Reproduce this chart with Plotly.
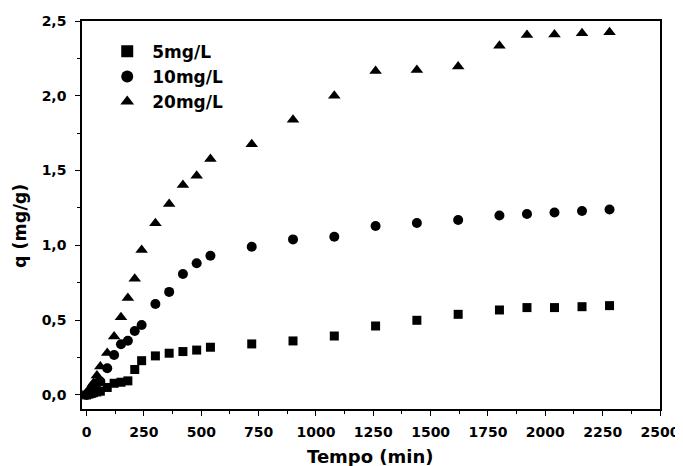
import plotly.graph_objects as go

# time (min)
t = [0, 10, 20, 30, 45, 60, 90, 120, 150, 180, 210, 240, 300, 360, 420, 480, 540,
     720, 900, 1080, 1260, 1440, 1620, 1800, 1920, 2040, 2160, 2280]

q_5 = [0.0, 0.005, 0.01, 0.015, 0.02, 0.025, 0.05, 0.078, 0.085, 0.094, 0.17, 0.229,
       0.261, 0.279, 0.29, 0.30, 0.319, 0.341, 0.361, 0.394, 0.461, 0.499, 0.539,
       0.568, 0.584, 0.584, 0.59, 0.597]
q_10 = [0.0, 0.02, 0.04, 0.06, 0.08, 0.09, 0.178, 0.267, 0.339, 0.362, 0.428, 0.468,
        0.608, 0.689, 0.809, 0.88, 0.931, 0.991, 1.04, 1.058, 1.13, 1.15, 1.17,
        1.20, 1.21, 1.22, 1.23, 1.24]
q_20 = [0.0, 0.02, 0.05, 0.08, 0.13, 0.19, 0.28, 0.39, 0.519, 0.648, 0.777, 0.969,
        1.148, 1.277, 1.404, 1.466, 1.578, 1.676, 1.84, 2.0, 2.166, 2.172, 2.195,
        2.335, 2.406, 2.41, 2.418, 2.424]

series_names = ["5mg/L", "10mg/L", "20mg/L"]
x_title = "Tempo (min)"
y_title = "q (mg/g)"
x_tickvals = [0, 250, 500, 750, 1000, 1250, 1500, 1750, 2000, 2250, 2500]
x_ticktext = ["0", "250", "500", "750", "1000", "1250", "1500", "1750", "2000", "2250", "2500"]
y_tickvals = [0.0, 0.5, 1.0, 1.5, 2.0, 2.5]
y_ticktext = ["0,0", "0,5", "1,0", "1,5", "2,0", "2,5"]

FONT = "DejaVu Sans"

fig = go.Figure()
fig.add_trace(go.Scatter(x=t, y=q_5, mode="markers", name=series_names[0],
                         marker=dict(symbol="square", size=9, color="black")))
fig.add_trace(go.Scatter(x=t, y=q_10, mode="markers", name=series_names[1],
                         marker=dict(symbol="circle", size=10, color="black")))
fig.add_trace(go.Scatter(x=t, y=q_20, mode="markers", name=series_names[2],
                         marker=dict(symbol="triangle-up", size=11, color="black")))

axis_common = dict(
    showline=True, linecolor="black", linewidth=1.5, mirror=True,
    ticks="outside", ticklen=5, tickwidth=1.3, tickcolor="black",
    showgrid=False, zeroline=False, automargin=False,
    tickfont=dict(family=FONT, size=14, color="black", weight="bold"),
)

fig.update_xaxes(
    range=[-20, 2500], tickvals=x_tickvals, ticktext=x_ticktext,
    minor=dict(ticks="outside", ticklen=3, tickwidth=1.2, tickcolor="black", dtick=125, tick0=0),
    ticklabelstandoff=4,
    **axis_common,
)
fig.update_yaxes(
    range=[-0.094, 2.5], tickvals=y_tickvals, ticktext=y_ticktext,
    minor=dict(ticks="outside", ticklen=3, tickwidth=1.2, tickcolor="black", dtick=0.25, tick0=0),
    ticklabelstandoff=6,
    **axis_common,
)

fig.add_annotation(text=x_title, xref="paper", yref="paper", x=(370 - 82) / 578,
                   y=(409 - 456) / 388, xanchor="center", yanchor="middle", showarrow=False,
                   font=dict(family=FONT, size=18, color="black", weight="bold"))
fig.add_annotation(text=y_title, xref="paper", yref="paper", x=(20 - 82) / 578,
                   y=(409 - 226) / 388, xanchor="center", yanchor="middle", showarrow=False,
                   textangle=-90,
                   font=dict(family=FONT, size=17.5, color="black", weight="bold"))

# the page body adds an 8px offset, so the figure is sized to fit the window
fig.update_layout(
    width=675, height=458,
    margin=dict(l=74, r=23, t=13, b=57),
    paper_bgcolor="white", plot_bgcolor="white",
    showlegend=True,
    legend=dict(x=0.035, y=0.967, xanchor="left", yanchor="top",
                bgcolor="rgba(0,0,0,0)", borderwidth=0,
                font=dict(family=FONT, size=17, color="black", weight="bold"),
                itemsizing="constant", itemwidth=40),
)

fig.write_html("out.html")
